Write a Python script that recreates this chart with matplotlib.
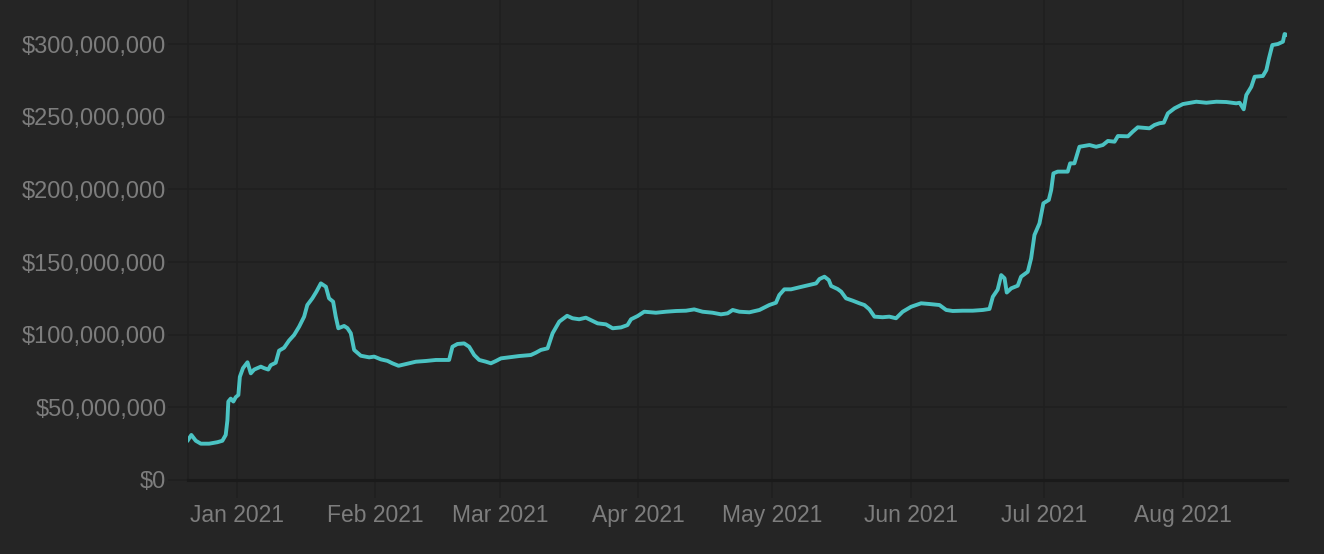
import matplotlib
matplotlib.use('Agg')
import matplotlib.pyplot as plt
import matplotlib.dates as mdates
from matplotlib.ticker import FuncFormatter, MultipleLocator
import pandas as pd

# values, in millions of USD
dates = [
    "2020-12-21 00:00", "2020-12-21 18:00", "2020-12-22 18:00", "2020-12-23 21:00",
    "2020-12-25 18:00", "2020-12-27 14:00", "2020-12-28 17:00", "2020-12-29 11:00",
    "2020-12-29 20:00", "2020-12-30 01:00", "2020-12-30 14:00", "2020-12-31 04:00",
    "2020-12-31 17:00", "2021-01-01 07:00", "2021-01-01 15:00", "2021-01-02 08:00",
    "2021-01-03 08:00", "2021-01-04 02:00", "2021-01-04 20:00", "2021-01-06 08:00",
    "2021-01-07 01:00", "2021-01-08 00:00", "2021-01-08 13:00", "2021-01-09 16:00",
    "2021-01-10 10:00", "2021-01-11 13:00", "2021-01-12 16:00", "2021-01-13 19:00",
    "2021-01-14 22:00", "2021-01-16 01:00", "2021-01-16 18:00", "2021-01-17 21:00",
    "2021-01-18 19:00", "2021-01-19 19:00", "2021-01-20 22:00", "2021-01-21 15:00",
    "2021-01-22 13:00", "2021-01-23 03:00", "2021-01-23 17:00", "2021-01-25 00:00",
    "2021-01-25 18:00", "2021-01-26 12:00", "2021-01-27 06:00", "2021-01-28 18:00",
    "2021-01-30 15:00", "2021-01-31 18:00", "2021-02-02 06:00", "2021-02-03 17:00",
    "2021-02-04 20:00", "2021-02-06 05:00", "2021-02-07 20:00", "2021-02-10 02:00",
    "2021-02-12 08:00", "2021-02-14 14:00", "2021-02-17 13:00", "2021-02-18 07:00",
    "2021-02-19 10:00", "2021-02-20 22:00", "2021-02-22 01:00", "2021-02-23 04:00",
    "2021-02-24 07:00", "2021-02-25 19:00", "2021-02-26 22:00", "2021-02-28 01:00",
    "2021-03-01 04:00", "2021-03-03 00:00", "2021-03-05 06:00", "2021-03-07 21:00",
    "2021-03-09 00:00", "2021-03-10 03:00", "2021-03-11 15:00", "2021-03-12 18:00",
    "2021-03-14 06:00", "2021-03-16 00:00", "2021-03-17 05:00", "2021-03-18 17:00",
    "2021-03-20 05:00", "2021-03-21 08:00", "2021-03-22 20:00", "2021-03-24 17:00",
    "2021-03-26 05:00", "2021-03-28 02:00", "2021-03-29 13:00", "2021-03-30 08:00",
    "2021-03-31 19:00", "2021-04-02 07:00", "2021-04-04 22:00", "2021-04-07 04:00",
    "2021-04-09 10:00", "2021-04-11 16:00", "2021-04-13 12:00", "2021-04-15 09:00",
    "2021-04-17 15:00", "2021-04-19 12:00", "2021-04-21 00:00", "2021-04-22 03:00",
    "2021-04-23 15:00", "2021-04-25 21:00", "2021-04-28 03:00", "2021-04-30 08:00",
    "2021-05-01 20:00", "2021-05-02 14:00", "2021-05-03 17:00", "2021-05-05 05:00",
    "2021-05-07 02:00", "2021-05-09 08:00", "2021-05-10 20:00", "2021-05-11 14:00",
    "2021-05-12 17:00", "2021-05-13 16:00", "2021-05-14 05:00", "2021-05-15 16:00",
    "2021-05-16 11:00", "2021-05-17 13:00", "2021-05-19 01:00", "2021-05-20 13:00",
    "2021-05-21 16:00", "2021-05-22 19:00", "2021-05-23 22:00", "2021-05-25 18:00",
    "2021-05-27 06:00", "2021-05-28 18:00", "2021-05-30 06:00", "2021-06-01 03:00",
    "2021-06-03 09:00", "2021-06-05 06:00", "2021-06-07 12:00", "2021-06-09 00:00",
    "2021-06-10 11:00", "2021-06-12 17:00", "2021-06-14 23:00", "2021-06-17 05:00",
    "2021-06-18 17:00", "2021-06-19 11:00", "2021-06-20 13:00", "2021-06-21 08:00",
    "2021-06-22 02:00", "2021-06-22 14:00", "2021-06-23 14:00", "2021-06-25 01:00",
    "2021-06-25 19:00", "2021-06-27 07:00", "2021-06-28 01:00", "2021-06-28 19:00",
    "2021-06-29 22:00", "2021-06-30 19:00", "2021-07-02 00:00", "2021-07-02 13:00",
    "2021-07-03 01:00", "2021-07-04 00:00", "2021-07-06 06:00", "2021-07-06 19:00",
    "2021-07-07 18:00", "2021-07-08 21:00", "2021-07-11 03:00", "2021-07-12 15:00",
    "2021-07-14 03:00", "2021-07-15 06:00", "2021-07-16 18:00", "2021-07-17 12:00",
    "2021-07-19 18:00", "2021-07-20 20:00", "2021-07-21 23:00", "2021-07-24 14:00",
    "2021-07-25 17:00", "2021-07-26 20:00", "2021-07-27 19:00", "2021-07-28 17:00",
    "2021-07-30 05:00", "2021-08-01 02:00", "2021-08-04 02:00", "2021-08-06 08:00",
    "2021-08-08 14:00", "2021-08-10 19:00", "2021-08-13 01:00", "2021-08-13 19:00",
    "2021-08-14 17:00", "2021-08-15 07:00", "2021-08-16 10:00", "2021-08-17 04:00",
    "2021-08-19 00:00", "2021-08-19 19:00", "2021-08-20 09:00", "2021-08-21 03:00",
    "2021-08-22 09:00", "2021-08-23 12:00", "2021-08-23 21:00", "2021-08-24 10:00",
]
values_musd = [
    27.5, 31.0, 27.0, 25.0, 25.0, 26.0, 27.0, 31.0,
    41.0, 54.0, 56.0, 54.0, 57.0, 58.5, 71.0, 77.0,
    81.0, 73.4, 76.0, 78.0, 77.0, 76.0, 79.0, 80.7,
    89.0, 91.0, 96.0, 99.8, 105.5, 112.4, 120.4, 125.0,
    129.6, 135.3, 133.0, 125.0, 122.7, 112.4, 104.4, 106.0,
    104.5, 101.0, 89.5, 85.5, 84.4, 84.9, 83.0, 82.0,
    80.3, 78.6, 79.8, 81.4, 81.9, 82.6, 82.6, 91.7,
    93.6, 94.0, 91.7, 86.0, 82.6, 81.4, 80.3, 81.9,
    83.7, 84.4, 85.3, 86.0, 87.6, 89.5, 90.6, 101.0,
    109.0, 113.0, 111.3, 110.6, 111.7, 110.0, 107.8, 107.1,
    104.4, 105.0, 106.6, 110.6, 112.8, 115.8, 115.1, 115.8,
    116.3, 116.5, 117.4, 115.8, 115.1, 114.0, 114.7, 117.0,
    115.8, 115.4, 117.0, 120.4, 122.0, 127.3, 131.2, 131.2,
    132.6, 134.2, 135.3, 138.3, 139.9, 137.6, 133.5, 131.4,
    129.6, 125.0, 123.4, 121.6, 120.4, 117.4, 112.4, 112.0,
    112.4, 111.3, 115.8, 119.2, 121.6, 121.1, 120.4, 117.0,
    116.3, 116.5, 116.5, 117.0, 117.7, 126.1, 131.0, 141.0,
    138.8, 129.0, 131.9, 133.7, 139.9, 143.3, 152.5, 168.6,
    176.6, 190.4, 192.7, 199.5, 211.0, 212.2, 212.2, 217.9,
    217.9, 229.3, 230.5, 229.3, 230.5, 233.3, 232.8, 236.7,
    236.5, 239.7, 242.7, 242.0, 244.3, 245.5, 245.9, 252.3,
    255.8, 258.7, 260.3, 259.6, 260.3, 260.1, 259.2, 259.6,
    255.1, 264.9, 270.6, 277.5, 278.0, 282.1, 290.2, 299.3,
    300.0, 301.6, 306.9, 306.2,
]

bg = '#252525'
grid_col = '#1f1f1f'
text_col = '#7d7d7d'
line_col = '#4bc3c3'

plt.rcParams['font.family'] = ['Liberation Sans', 'DejaVu Sans']

ts = pd.to_datetime(dates)
vals = [v * 1e6 for v in values_musd]

fig = plt.figure(figsize=(13.24, 5.54), dpi=100, facecolor=bg)
ax = fig.add_axes([188 / 1324, 1 - 480 / 554, (1287 - 188) / 1324, 480 / 554])
ax.set_facecolor(bg)

ax.plot(ts, vals, color=line_col, linewidth=2.8, solid_joinstyle='round', zorder=3)

ax.set_xlim(ts[0], ts[-1])
ax.set_ylim(0, 330.3e6)

ax.yaxis.set_major_locator(MultipleLocator(50e6))
ax.yaxis.set_major_formatter(FuncFormatter(lambda v, p: '${:,.0f}'.format(v)))
ax.xaxis.set_major_locator(mdates.MonthLocator())
ax.xaxis.set_major_formatter(mdates.DateFormatter('%b %Y'))

ax.grid(True, color=grid_col, linewidth=1.1, zorder=0)
for s in ['top', 'right']:
    ax.spines[s].set_visible(False)
ax.spines['left'].set_color(grid_col)
ax.spines['left'].set_linewidth(1.1)
ax.spines['bottom'].set_color('#1a1a1a')
ax.spines['bottom'].set_linewidth(2.2)

ax.tick_params(axis='y', length=14.5, width=1.1, color=grid_col, pad=1,
               labelsize=17, labelcolor=text_col)
ax.tick_params(axis='x', length=13, width=1.1, color=grid_col, pad=4,
               labelsize=16.5, labelcolor=text_col)

fig.savefig('out.png', dpi=100, facecolor=bg)
